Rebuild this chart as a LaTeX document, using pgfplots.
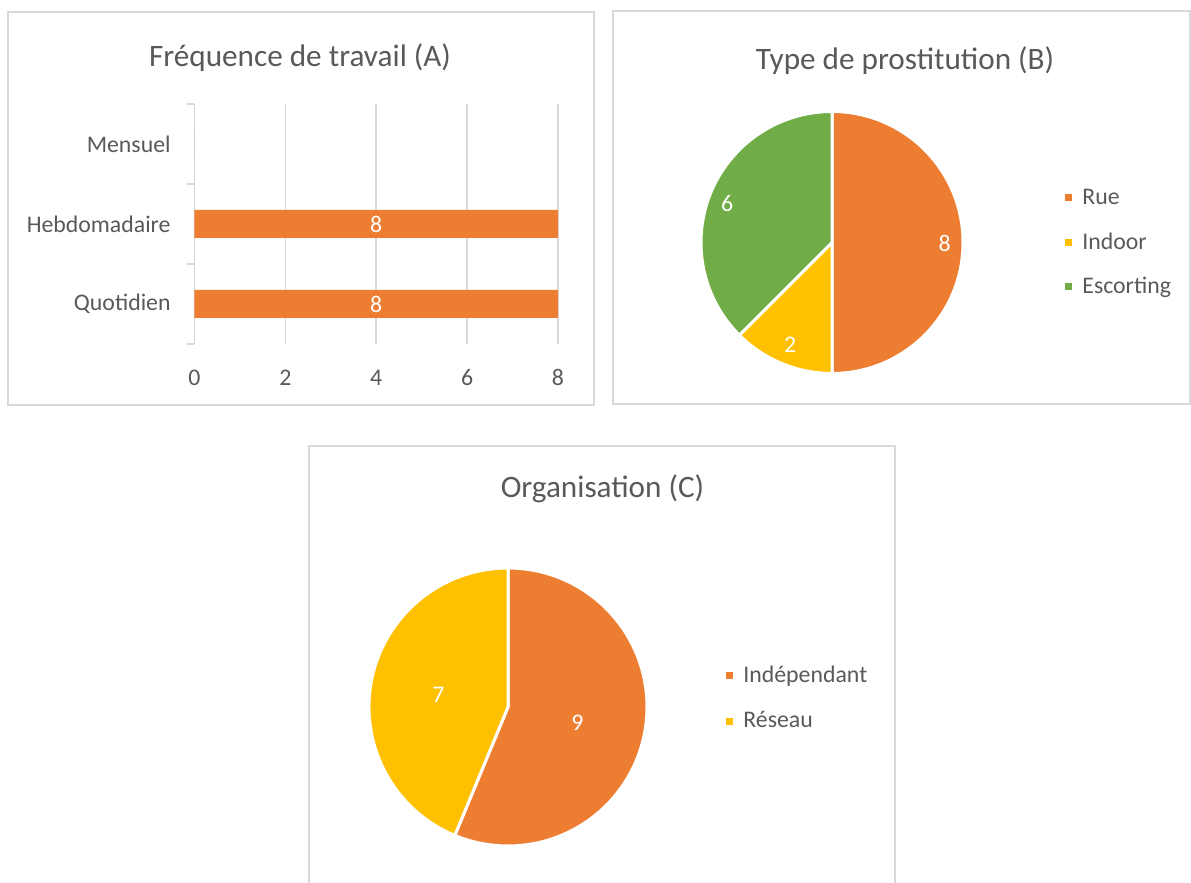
\documentclass[border=0pt]{standalone}
\usepackage{pgfplots}
\pgfplotsset{compat=1.18}
\usepackage{fontspec}
\setmainfont{Carlito}
\definecolor{txt}{HTML}{595959}
\definecolor{frm}{HTML}{D9D9D9}
\definecolor{orng}{HTML}{ED7D31}
\definecolor{yel}{HTML}{FFC000}
\definecolor{grn}{HTML}{70AD47}
\newcommand\lbl{\fontsize{11.9}{14}\selectfont}
\newcommand\ttl{\fontsize{15.6}{19}\selectfont}
% pie slice: start angle, end angle, colour, radius
\newcommand{\pieslice}[4]{%
  \filldraw[fill=#3, draw=white, line width=1.5pt, line join=round]
    (axis cs:0,0) -- ++(#1:#4) arc[start angle=#1, end angle=#2, radius=#4] -- cycle;}
% data
\def\Brue{8}\def\Bindoor{2}\def\Besc{6}
\def\Cind{9}\def\Cres{7}
\begin{document}
\begin{tikzpicture}
\useasboundingbox (0pt,0pt) rectangle (595.5pt,441.5pt);
% decorations in pixel coordinates of the reference (origin top-left)
\begin{scope}[x=0.5pt, y=-0.5pt, shift={(0pt,441.5pt)}]
\draw[frm, line width=1pt] (8,12) rectangle (594,405);
\draw[frm, line width=1pt] (613,11) rectangle (1189.5,404);
\draw[frm, line width=1pt] (309,895) -- (309,446) -- (895,446) -- (895,895);
\node[anchor=base, inner sep=0, text=txt, font=\ttl] at (300,67) {Fréquence de travail (A)};
\node[anchor=base, inner sep=0, text=txt, font=\ttl] at (905,70) {Type de prostitution (B)};
\node[anchor=base, inner sep=0, text=txt, font=\ttl] at (602.5,498) {Organisation (C)};
% legend B
\fill[orng] (1065,194.5) rectangle (1072,201.5);
\node[anchor=base west, inner sep=0, text=txt, font=\lbl] at (1082,205) {Rue};
\fill[yel] (1065,239.5) rectangle (1072,246.5);
\node[anchor=base west, inner sep=0, text=txt, font=\lbl] at (1082,250) {Indoor};
\fill[grn] (1065,283.5) rectangle (1072,290.5);
\node[anchor=base west, inner sep=0, text=txt, font=\lbl] at (1082,294) {Escorting};
% legend C
\fill[orng] (726,672.5) rectangle (733,679.5);
\node[anchor=base west, inner sep=0, text=txt, font=\lbl] at (743,683) {Indépendant};
\fill[yel] (726,718.5) rectangle (733,725.5);
\node[anchor=base west, inner sep=0, text=txt, font=\lbl] at (743,728) {Réseau};
\end{scope}

% ---------- (A) bar chart ----------
\begin{axis}[at={(97.25pt,269.5pt)}, anchor=south west, scale only axis,
  width=181.75pt, height=120pt,
  xmin=0, xmax=8, ymin=0.5, ymax=3.5,
  axis x line*=bottom, axis y line*=left,
  axis line style={-},
  x axis line style={draw=none},
  y axis line style={draw=frm, line width=0.75pt},
  xtick={0,2,4,6,8},
  ytick={1,2,3}, yticklabels={Quotidien,Hebdomadaire,Mensuel},
  major tick length=0pt,
  extra y ticks={0.5,1.5,2.5,3.5}, extra y tick labels={},
  extra y tick style={major tick length=3.5pt, tick align=outside,
     tick style={draw=frm, line width=0.75pt}},
  xmajorgrids, grid style={draw=frm, line width=0.75pt},
  /pgf/number format/assume math mode=true,
  tick label style={font=\lbl, text=txt},
  yticklabel style={inner sep=0pt, xshift=-11.75pt},
  xticklabel style={anchor=base, inner sep=0pt, yshift=-20.75pt},
  clip=false]
\addplot[xbar, bar width=14pt, fill=orng, draw=none] coordinates {(8,1) (8,2) (0,3)};
\addplot[draw=none, mark=none, nodes near coords, point meta=explicit symbolic,
  nodes near coords align=center,
  every node near coord/.append style={anchor=center, text=white, font=\lbl}]
  coordinates {(4,1)[8] (4,2)[8]};
\end{axis}

% ---------- (B) pie ----------
\pgfmathsetmacro\Btot{\Brue+\Bindoor+\Besc}
\pgfmathsetmacro\Ba{90}
\pgfmathsetmacro\Bb{\Ba-360*\Brue/\Btot}
\pgfmathsetmacro\Bc{\Bb-360*\Bindoor/\Btot}
\pgfmathsetmacro\Bd{\Bc-360*\Besc/\Btot}
\begin{axis}[at={(416pt,320.25pt)}, anchor=center, scale only axis,
  width=131pt, height=131pt, xmin=-1, xmax=1, ymin=-1, ymax=1,
  hide axis, clip=false]
\addplot[draw=none, mark=none] coordinates {(0,0)};
\pieslice{\Ba}{\Bb}{orng}{65.5pt}
\pieslice{\Bb}{\Bc}{yel}{65.5pt}
\pieslice{\Bc}{\Bd}{grn}{65.5pt}
\node[text=white, font=\lbl] at (axis cs:0.86,-0.01) {\Brue};
\node[text=white, font=\lbl] at (axis cs:-0.32,-0.78) {\Bindoor};
\node[text=white, font=\lbl] at (axis cs:-0.80,0.30) {\Besc};
\end{axis}

% ---------- (C) pie ----------
\pgfmathsetmacro\Ctot{\Cind+\Cres}
\pgfmathsetmacro\Ca{90}
\pgfmathsetmacro\Cb{\Ca-360*\Cind/\Ctot}
\pgfmathsetmacro\Cc{\Cb-360*\Cres/\Ctot}
\begin{axis}[at={(254pt,88pt)}, anchor=center, scale only axis,
  width=139pt, height=139pt, xmin=-1, xmax=1, ymin=-1, ymax=1,
  hide axis, clip=false]
\addplot[draw=none, mark=none] coordinates {(0,0)};
\pieslice{\Ca}{\Cb}{orng}{69.5pt}
\pieslice{\Cb}{\Cc}{yel}{69.5pt}
\node[text=white, font=\lbl] at (axis cs:0.50,-0.11) {\Cind};
\node[text=white, font=\lbl] at (axis cs:-0.50,0.09) {\Cres};
\end{axis}
\end{tikzpicture}
\end{document}
